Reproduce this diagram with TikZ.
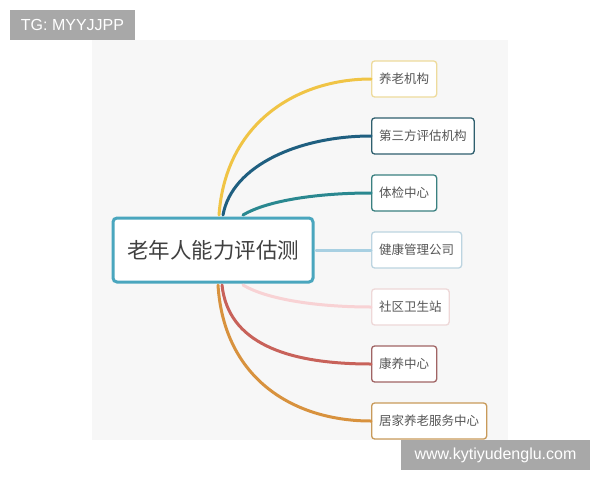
\documentclass[tikz,border=0pt]{standalone}
\usepackage{fontspec}
\setmainfont{Noto Sans CJK SC}
\newfontfamily\wmfont{Liberation Sans}
\usetikzlibrary{calc}
\definecolor{panel}{HTML}{F7F7F7}
\definecolor{wmgray}{HTML}{A8A8A8}
\definecolor{ctr}{HTML}{4AA6BE}
\definecolor{cyel}{HTML}{F0C445}
\definecolor{cyelb}{HTML}{EEDB9C}
\definecolor{cdblue}{HTML}{1F5F80}
\definecolor{cdblueb}{HTML}{2F5F6E}
\definecolor{cteal}{HTML}{2A8890}
\definecolor{ctealb}{HTML}{3A8080}
\definecolor{clblue}{HTML}{A8D0E2}
\definecolor{clblueb}{HTML}{BCD4E0}
\definecolor{cpink}{HTML}{F8D2D4}
\definecolor{cpinkb}{HTML}{EED8D8}
\definecolor{cred}{HTML}{C8625A}
\definecolor{credb}{HTML}{A06464}
\definecolor{corg}{HTML}{D8923E}
\definecolor{corgb}{HTML}{C89A5A}
\definecolor{txt}{HTML}{555555}
\tikzset{
  leaf/.style={draw, line width=1.3pt, rounded corners=3pt, fill=white, anchor=west,
    minimum height=36pt, inner xsep=7.5pt, font=\fontsize{12.5}{14}\selectfont, text=txt},
  branch/.style={line width=3pt, line cap=round},
  wm/.style={fill=wmgray, text=white, font=\wmfont\fontsize{16}{18}\selectfont, inner sep=0pt}
}
\begin{document}
\begin{tikzpicture}[x=1pt,y=-1pt]
\useasboundingbox (0,0) rectangle (600,480);
\fill[white] (0,0) rectangle (600,480);
\fill[panel] (92,40) rectangle (508,440);
% central node
\node[draw=ctr, line width=3pt, rounded corners=4pt, fill=white, minimum width=200pt, minimum height=64pt,
  font=\fontsize{21.5}{24}\selectfont, text=black!75] (c) at (213,250) {老年人能力评估测};
% leaves
\node[leaf, draw=cyelb] (n1) at (371,79) {养老机构};
\node[leaf, draw=cdblueb] (n2) at (371,136) {第三方评估机构};
\node[leaf, draw=ctealb] (n3) at (371,193) {体检中心};
\node[leaf, draw=clblueb] (n4) at (371,250) {健康管理公司};
\node[leaf, draw=cpinkb] (n5) at (371,307) {社区卫生站};
\node[leaf, draw=credb] (n6) at (371,364) {康养中心};
\node[leaf, draw=corgb] (n7) at (371,421) {居家养老服务中心};
% branches
\draw[branch, cyel] ($(c.north)+(6,-1.5)$) .. controls (226,120) and (300,79) .. (n1.west);
\draw[branch, cdblue] ($(c.north)+(10,-1.5)$) .. controls (232,165) and (300,136) .. (n2.west);
\draw[branch, cteal] ($(c.north)+(30,-1.5)$) .. controls (268,200) and (320,193) .. (n3.west);
\draw[branch, clblue] ($(c.east)+(1.5,0)$) -- (n4.west);
\draw[branch, cpink] ($(c.south)+(30,1.5)$) .. controls (268,300) and (320,307) .. (n5.west);
\draw[branch, cred] ($(c.south)+(9,1.5)$) .. controls (228,342) and (285,364) .. (n6.west);
\draw[branch, corg] ($(c.south)+(5,1.5)$) .. controls (224,380) and (295,421) .. (n7.west);
% watermarks
\node[wm, minimum width=125pt, minimum height=30pt] (w1) at (72.5,25) {TG: MYYJJPP};
\node[wm, minimum width=189pt, minimum height=30pt] (w2) at (495.5,455) {www.kytiyudenglu.com};
\end{tikzpicture}
\end{document}
